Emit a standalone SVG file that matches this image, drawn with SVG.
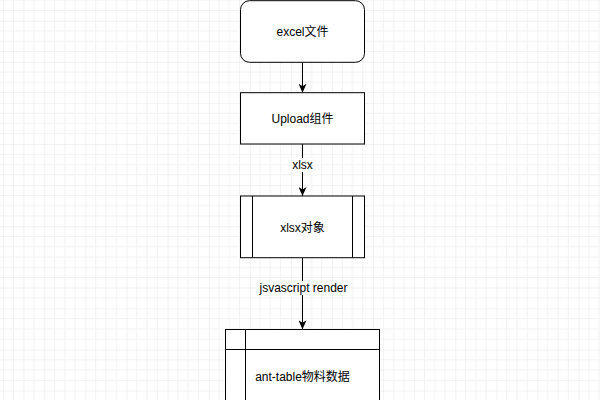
<svg xmlns="http://www.w3.org/2000/svg" width="600" height="400" viewBox="0 0 600 400">
<defs>
<pattern id="grid" x="3.2" y="20.7" width="41.1" height="41.1" patternUnits="userSpaceOnUse">
<path d="M10.275,0V41.1M20.55,0V41.1M30.825,0V41.1M0,10.275H41.1M0,20.55H41.1M0,30.825H41.1" stroke="#f2f2f2" stroke-width="1" fill="none"/>
<path d="M0,0V41.1M0,0H41.1" stroke="#e4e4e4" stroke-width="1" fill="none"/>
</pattern>
<marker id="arr" viewBox="0 0 9 8" refX="9" refY="4" markerWidth="9" markerHeight="8" markerUnits="userSpaceOnUse" orient="auto">
<path d="M9,4 L0,0 L2.5,4 L0,8 Z" fill="#000"/>
</marker>
</defs>
<style>
.box{fill:#fff;stroke:#000;stroke-width:1}
.in{fill:none;stroke:#000;stroke-width:1}
.t{font-family:"Liberation Sans","Noto Sans CJK SC",sans-serif;font-size:12px;fill:#000;text-anchor:middle;dominant-baseline:central}
.e{fill:none;stroke:#000;stroke-width:1;marker-end:url(#arr)}
.lb{fill:#fff}
</style>
<rect width="600" height="400" fill="#fff"/>
<rect width="600" height="400" fill="url(#grid)"/>
<g id="connectors">
<path class="e" d="M302.5,62.3V92.7"/>
<path class="e" d="M302.5,144V196"/>
<rect class="lb" x="290" y="158" width="25" height="14"/>
<text class="t" x="302.5" y="165">xlsx</text>
<path class="e" d="M302.5,257.7V329.3"/>
<rect class="lb" x="256.5" y="281" width="93" height="14"/>
<text class="t" x="303.5" y="288">jsvascript render</text>
</g>
<g id="n1">
<rect class="box" x="240.5" y="0.7" width="124" height="61.6" rx="9"/>
<text class="t" x="302.5" y="32">excel文件</text>
</g>
<g id="n2">
<rect class="box" x="240.5" y="92.7" width="124" height="51.3"/>
<text class="t" x="302.5" y="119">Upload组件</text>
</g>
<g id="n3">
<rect class="box" x="240.5" y="196" width="124" height="61.7"/>
<path class="in" d="M252.5,196V257.7M352.5,196V257.7"/>
<text class="t" x="302.5" y="227.5">xlsx对象</text>
</g>
<g id="n4">
<rect class="box" x="225.5" y="329.5" width="154" height="100"/>
<path class="in" d="M245.5,329.5V429.5M225.5,349.5H379.5"/>
<text class="t" x="302.5" y="376.5">ant-table物料数据</text>
</g>
</svg>
